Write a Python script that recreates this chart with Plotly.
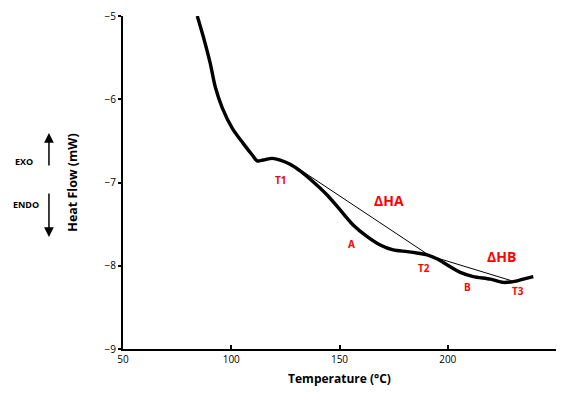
import plotly.graph_objects as go

temp = [84.3, 87.1, 90.3, 92.6, 95.8, 100.5, 105.5, 109.7, 112.0, 114.8, 118.9, 122.6,
        127.2, 131.8, 137.8, 144.3, 150.3, 156.3, 162.8, 168.8, 174.8, 181.3, 186.4,
        190.5, 195.2, 199.8, 205.8, 211.8, 219.7, 225.7, 230.3, 234.9, 239.5]
heat = [-5.00, -5.25, -5.57, -5.85, -6.10, -6.35, -6.53, -6.67, -6.74, -6.73, -6.71, -6.73,
        -6.78, -6.86, -6.99, -7.15, -7.33, -7.51, -7.65, -7.75, -7.81, -7.83, -7.85,
        -7.87, -7.92, -7.99, -8.08, -8.13, -8.16, -8.20, -8.19, -8.16, -8.13]

base_x = [130.3, 191.7, 229.5]
base_y = [-6.82, -7.88, -8.18]

lbl_text = ["T1", "A", "ΔHA", "T2", "ΔHB", "B", "T3"]
lbl_x = [122.9, 155.7, 172.8, 189.0, 224.9, 209.2, 232.3]
lbl_y = [-6.97, -7.74, -7.22, -8.03, -7.89, -8.25, -8.30]
lbl_size = [10, 10, 14, 10, 14, 10, 10]

fig = go.Figure()
fig.add_trace(go.Scatter(x=temp, y=heat, mode="lines",
                         line=dict(color="black", width=3.4, shape="spline", smoothing=0.8),
                         showlegend=False, hoverinfo="skip"))
fig.add_trace(go.Scatter(x=base_x, y=base_y, mode="lines",
                         line=dict(color="black", width=1),
                         showlegend=False, hoverinfo="skip"))

for t, x, y, s in zip(lbl_text, lbl_x, lbl_y, lbl_size):
    fig.add_annotation(x=x, y=y, text="<b>%s</b>" % t, showarrow=False,
                       font=dict(color="red", size=s, family="Open Sans"))

# EXO / ENDO indicators
fig.add_annotation(xref="paper", yref="paper", x=-0.2286, y=0.5616, text="<b>EXO</b>",
                   xanchor="center", yanchor="middle",
                   showarrow=False, font=dict(size=9, color="black", family="Open Sans"))
fig.add_annotation(xref="paper", yref="paper", x=-0.224, y=0.4354, text="<b>ENDO</b>",
                   xanchor="center", yanchor="middle",
                   showarrow=False, font=dict(size=9, color="black", family="Open Sans"))
fig.add_annotation(xref="paper", yref="paper", x=-0.171, y=0.649, ax=0, ay=34,
                   axref="pixel", ayref="pixel", text="", showarrow=True,
                   arrowhead=2, arrowsize=1.3, arrowwidth=1.5, arrowcolor="black")
fig.add_annotation(xref="paper", yref="paper", x=-0.171, y=0.336, ax=0, ay=-45,
                   axref="pixel", ayref="pixel", text="", showarrow=True,
                   arrowhead=2, arrowsize=1.3, arrowwidth=1.5, arrowcolor="black")

fig.update_layout(
    width=564, height=396,
    margin=dict(l=123, r=8, t=16, b=47),
    plot_bgcolor="white", paper_bgcolor="white",
    font=dict(family="Open Sans", color="black"),
    xaxis=dict(range=[50, 250], tickvals=[50, 100, 150, 200, 250], automargin=False,
               showline=True, linecolor="black", linewidth=2,
               ticks="inside", ticklen=4, tickwidth=1.5, tickcolor="black",
               showgrid=False, zeroline=False,
               tickfont=dict(size=10, family="Open Sans"),
               title=dict(text="<b>Temperature (°C)</b>", font=dict(size=12), standoff=10)),
    yaxis=dict(range=[-9, -5], tickvals=[-9, -8, -7, -6, -5], automargin=False,
               showline=True, linecolor="black", linewidth=2,
               ticks="outside", ticklen=3, tickwidth=1.5, tickcolor="black",
               showgrid=False, zeroline=False,
               tickfont=dict(size=10, family="Open Sans"),
               title=dict(text="<b>Heat Flow (mW)</b>", font=dict(size=12.5), standoff=24)),
)

fig.write_html("out.html", config={"displayModeBar": False},
               post_script="document.body.style.margin='0';")
